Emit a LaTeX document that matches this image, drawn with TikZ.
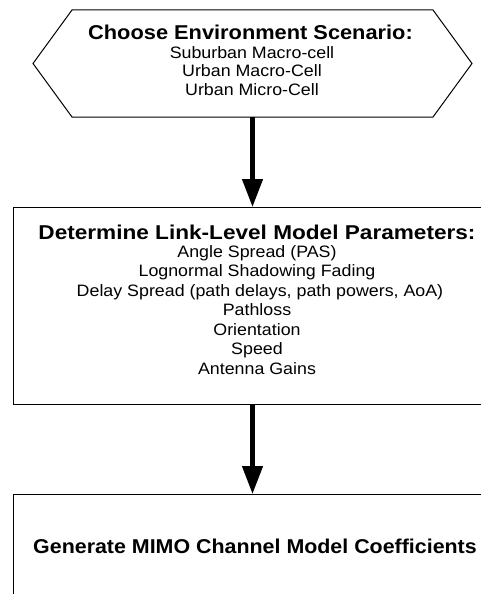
\documentclass[tikz,border=0pt]{standalone}
\usepackage{fontspec}
\setmainfont{Liberation Sans}
\usetikzlibrary{arrows.meta}
\newcommand\rl[1]{\scalebox{1.08}[1]{#1}}
\newcommand\bl[2]{\scalebox{#1}[1]{#2}}
\begin{document}
\begin{tikzpicture}[x=1pt,y=-1pt,
  outline/.style={draw=black,line width=1pt},
  boxshape/.style={outline,rectangle,anchor=north west,inner sep=0pt},
  flow/.style={line width=4.5pt,-{Triangle[length=28pt,width=20pt]}},
  headtxt/.style={anchor=base,inner sep=0pt,font=\fontsize{20}{20}\selectfont\bfseries},
  itemtxt/.style={anchor=base,inner sep=0pt,font=\fontsize{16.5}{16.5}\selectfont}]
\useasboundingbox (0,0) rectangle (481,594);
\clip (0,0) rectangle (481,594);
\fill[white] (0,0) rectangle (481,594);
% hexagon
\coordinate (hl) at (33,63.5);
\coordinate (htl) at (72,10);
\coordinate (htr) at (433,10);
\coordinate (hr) at (472,63.5);
\coordinate (hbr) at (433,117);
\coordinate (hbl) at (72,117);
\coordinate (hexbot) at (252.5,117);
\draw[outline,line join=miter] (hl) -- (htl) -- (htr) -- (hr) -- (hbr) -- (hbl) -- cycle;
\node[headtxt] (t1) at (250.5,39.5) {\bl{1.09}{Choose Environment Scenario:}};
\node[itemtxt] (s1) at (252,59) {\rl{Suburban Macro-cell}};
\node[itemtxt] (s2) at (252,77) {\rl{Urban Macro-Cell}};
\node[itemtxt] (s3) at (252,95) {\rl{Urban Micro-Cell}};
% box 2
\node[boxshape,minimum width=520pt,minimum height=197pt] (box2) at (13,207) {};
\coordinate (b2top) at (252.5,207);
\coordinate (b2bot) at (252.5,404);
\node[headtxt] (t2) at (257,239) {\bl{1.13}{Determine Link-Level Model Parameters:}};
\node[itemtxt] (p1) at (257,257) {\rl{Angle Spread (PAS)}};
\node[itemtxt] (p2) at (257,276.5) {\rl{Lognormal Shadowing Fading}};
\node[itemtxt] (p3) at (260,296) {\rl{Delay Spread (path delays, path powers, AoA)}};
\node[itemtxt] (p4) at (257,315.5) {\rl{Pathloss}};
\node[itemtxt] (p5) at (257,335) {\rl{Orientation}};
\node[itemtxt] (p6) at (257,354.5) {\rl{Speed}};
\node[itemtxt] (p7) at (257,374) {\rl{Antenna Gains}};
% box 3
\node[boxshape,minimum width=520pt,minimum height=200pt] (box3) at (13,494) {};
\coordinate (b3top) at (252.5,494);
\node[headtxt] (t3) at (255,553) {\bl{1.07}{Generate MIMO Channel Model Coefficients}};
% arrows
\draw[flow] (hexbot) -- (b2top);
\draw[flow] (b2bot) -- (b3top);
\end{tikzpicture}
\end{document}
